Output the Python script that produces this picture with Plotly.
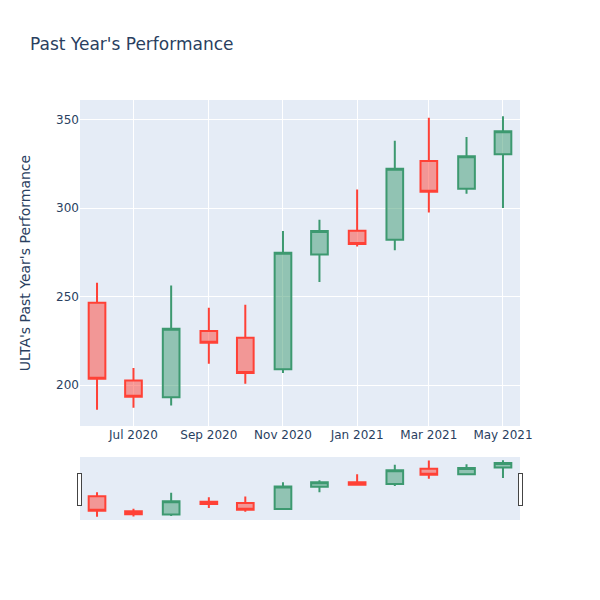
import plotly.graph_objects as go

dates = ["2020-06-01", "2020-07-01", "2020-08-01", "2020-09-01", "2020-10-01", "2020-11-01",
         "2020-12-01", "2021-01-01", "2021-02-01", "2021-03-01", "2021-04-01", "2021-05-01"]
opens = [246.6, 202.7, 193.3, 230.6, 226.8, 209.1, 273.9, 287.3, 282.2, 326.6, 311.0, 330.4]
highs = [257.9, 209.7, 256.4, 243.8, 245.5, 287.1, 293.5, 310.5, 338.1, 351.1, 340.2, 351.9]
lows = [186.2, 187.3, 188.6, 212.1, 200.8, 206.9, 258.3, 278.4, 276.2, 297.5, 308.2, 300.1]
closes = [203.7, 193.5, 231.9, 224.0, 206.9, 274.9, 287.1, 279.8, 322.3, 309.3, 329.3, 343.4]

candles = go.Candlestick(x=dates, open=opens, high=highs, low=lows, close=closes)

fig = go.Figure(data=[candles])
fig.update_layout(
    title="Past Year's Performance",
    yaxis_title="ULTA's Past Year's Performance",
    yaxis_title_standoff=22,
    font_family="DejaVu Sans",
    width=600, height=600,
)
# page margin off so the figure sits at the top-left corner
fig.write_html("out.html", config={"displayModeBar": False},
               post_script="document.body.style.margin='0';")
